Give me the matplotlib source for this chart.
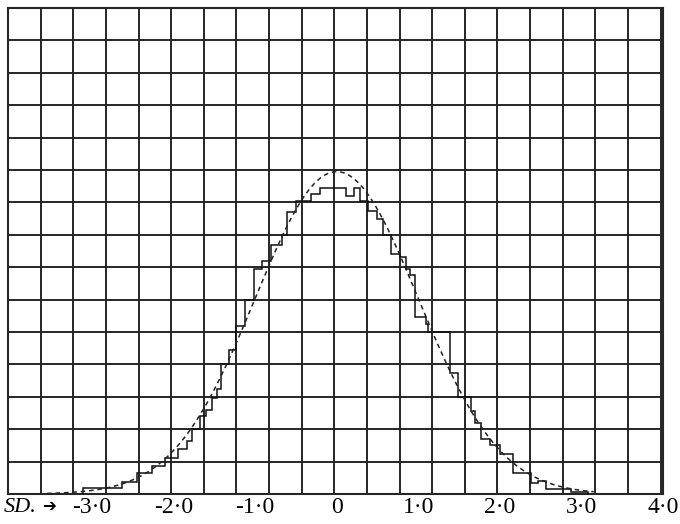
import numpy as np
import matplotlib.pyplot as plt

# observed distribution drawn as a step outline
# x in standard deviations, heights in grid squares
edges = [-3.11, -2.63, -2.45, -2.27, -2.11, -1.95, -1.84, -1.77, -1.68, -1.60,
         -1.53, -1.47, -1.42, -1.32, -1.23, -1.12, -1.01, -0.92, -0.81, -0.67,
         -0.61, -0.50, -0.32, -0.21, 0.11, 0.21, 0.29, 0.38, 0.49, 0.57,
         0.67, 0.78, 0.85, 0.90, 0.96, 1.09, 1.12, 1.39, 1.49, 1.65,
         1.70, 1.77, 1.88, 2.00, 2.16, 2.38, 2.47, 2.56, 2.87, 3.08]
heights = [0.2, 0.37, 0.65, 0.85, 1.1, 1.4, 1.65, 2.0, 2.4, 2.6,
           2.95, 3.25, 4.0, 4.45, 5.2, 6.0, 6.95, 7.2, 7.7, 8.0,
           8.7, 9.05, 9.25, 9.45, 9.2, 9.45, 9.05, 8.75, 8.5, 8.0,
           7.4, 7.3, 6.95, 6.75, 5.45, 5.25, 5.0, 3.75, 3.0, 2.55,
           2.2, 1.7, 1.5, 1.25, 0.65, 0.35, 0.4, 0.15, 0.07]

# normal curve (dashed)
mean = 0.0
sd = 1.0
peak = 9.95
curve_from, curve_to = -3.55, 3.15

tick_pos = [-3, -2, -1, 0, 1, 2, 3, 4]
tick_labels = ['-3·0', '-2·0', '-1·0', '0', '1·0', '2·0', '3·0', '4·0']

xmin, xmax = -4.03, 3.97
n_cols, n_rows = 20, 15

serif = ['Liberation Serif', 'DejaVu Serif', 'DejaVu Sans']

fig = plt.figure(figsize=(6.8, 5.24), dpi=100)
ax = fig.add_axes([8 / 680, 30 / 524, 655 / 680, 486 / 524])

# squared paper
ax.set_xticks(np.linspace(xmin, xmax, n_cols + 1), minor=True)
ax.set_yticks(np.linspace(0, n_rows, n_rows + 1), minor=True)
ax.grid(which='minor', color='#262626', linewidth=1.4)
ax.tick_params(which='both', length=0)
ax.set_yticks([])
for s in ax.spines.values():
    s.set_linewidth(1.5)
    s.set_color('#262626')

ax.stairs(heights, edges, baseline=0, color='#111111', linewidth=1.1, zorder=3)

x = np.linspace(curve_from, curve_to, 400)
y = peak * np.exp(-0.5 * ((x - mean) / sd) ** 2)
ax.plot(x, y, color='#222222', linewidth=1.1, linestyle=(0, (3, 2.5)), zorder=4)

ax.set_xlim(xmin, xmax)
ax.set_ylim(0, n_rows)
ax.set_xticks(tick_pos)
ax.set_xticklabels(tick_labels, family=serif, fontsize=17)
ax.tick_params(axis='x', which='major', pad=2)

fig.text(4 / 680, 1 - 507 / 524, 'SD.', family=serif, style='italic',
         fontsize=16, va='center', ha='left')
fig.text(42 / 680, 1 - 506 / 524, '➔', family=['DejaVu Sans'], fontsize=12,
         va='center', ha='left')

fig.savefig('out.png', dpi=100)
